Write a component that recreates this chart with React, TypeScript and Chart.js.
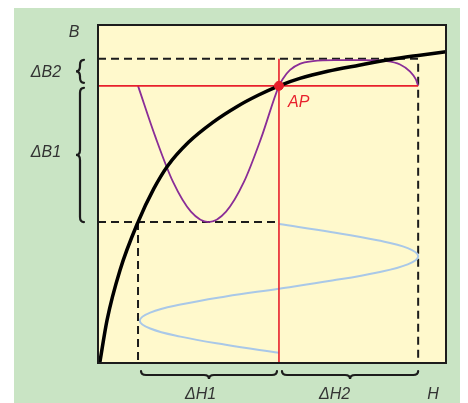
import React, { useEffect, useRef } from "react";
import { Chart, registerables } from "chart.js";
Chart.register(...registerables);

// Magnetisation (B-H) curve
const bhH = [0.5, 2.6, 6.3, 11.5, 16, 20, 26, 33, 40, 46, 52, 58, 66, 75, 84, 92, 100];
const bhB = [0, 12.7, 27.4, 41.7, 51.5, 58.3, 65.3, 71.2, 75.9, 79.2, 82.0, 84.2, 86.3, 88.1, 89.8, 91.0, 92.1];

// Resulting B over time (purple)
const outH = [11.5, 16.6, 21.6, 26.7, 31.8, 36.8, 41.9, 46.9, 52, 53.2, 55.2, 58, 61.8, 68, 76, 83, 86.8, 89.7, 91.3, 92];
const outB = [82, 66.6, 53.5, 44.8, 41.7, 44.8, 53.5, 66.6, 82, 84.2, 86.7, 88.5, 89.3, 89.6, 89.6, 89.3, 88.3, 86.2, 84, 82];

// Exciting H over time (light blue)
const inH = [52, 67.3, 80.3, 89.0, 92, 89.0, 80.3, 67.3, 52, 36.7, 23.7, 15.0, 12, 15.0, 23.7, 36.7, 52];
const inB = [41.1, 38.7, 36.3, 34.0, 31.6, 29.2, 26.8, 24.4, 22.0, 19.7, 17.3, 14.9, 12.5, 10.2, 7.8, 5.4, 3.0];

// Working point and limits
const hLow = 11.5;
const hAP = 52;
const hHigh = 92;
const bLow = 41.7;
const bAP = 82;
const bTop = 90;

const labels = { b: "B", h: "H", db1: "ΔB1", db2: "ΔB2", dh1: "ΔH1", dh2: "ΔH2", ap: "AP" };

const pts = (xs: number[], ys: number[]) => xs.map((x, i) => ({ x, y: ys[i] }));

const RED = "#E8202C";
const INK = "#1c1c1c";
const TXT = "#333333";

function hBrace(ctx: CanvasRenderingContext2D, x1: number, x2: number, y: number, h: number) {
  const mid = (x1 + x2) / 2;
  const r = 5;
  ctx.beginPath();
  ctx.moveTo(x1, y - h);
  ctx.quadraticCurveTo(x1, y, x1 + r, y);
  ctx.lineTo(mid - r, y);
  ctx.quadraticCurveTo(mid, y, mid, y + h);
  ctx.quadraticCurveTo(mid, y, mid + r, y);
  ctx.lineTo(x2 - r, y);
  ctx.quadraticCurveTo(x2, y, x2, y - h);
  ctx.stroke();
}

function vBrace(ctx: CanvasRenderingContext2D, x: number, y1: number, y2: number, h: number) {
  const mid = (y1 + y2) / 2;
  const r = 5;
  ctx.beginPath();
  ctx.moveTo(x + h, y1);
  ctx.quadraticCurveTo(x, y1, x, y1 + r);
  ctx.lineTo(x, mid - r);
  ctx.quadraticCurveTo(x, mid, x - h, mid);
  ctx.quadraticCurveTo(x, mid, x, mid + r);
  ctx.lineTo(x, y2 - r);
  ctx.quadraticCurveTo(x, y2, x + h, y2);
  ctx.stroke();
}

const decor = {
  id: "decor",
  beforeDraw(chart: any) {
    const { ctx, chartArea: a } = chart;
    ctx.save();
    ctx.fillStyle = "#C9E4C4";
    ctx.fillRect(6, 0, chart.width - 6, chart.height);
    ctx.fillStyle = "#FFF9CC";
    ctx.fillRect(a.left, a.top, a.right - a.left, a.bottom - a.top);
    ctx.restore();
  },
  afterDraw(chart: any) {
    const { ctx, chartArea: a } = chart;
    const xs = chart.scales.x;
    const ys = chart.scales.y;
    ctx.save();
    ctx.strokeStyle = INK;
    ctx.lineWidth = 2;
    ctx.strokeRect(a.left, a.top, a.right - a.left, a.bottom - a.top);

    ctx.lineWidth = 2.2;
    ctx.lineCap = "round";
    // left braces
    vBrace(ctx, 72, ys.getPixelForValue(bTop) + 1, ys.getPixelForValue(bAP) - 3, 4);
    vBrace(ctx, 72, ys.getPixelForValue(bAP) + 2, ys.getPixelForValue(bLow), 4);
    // bottom braces
    const by = a.bottom + 12;
    hBrace(ctx, xs.getPixelForValue(hLow) + 3, xs.getPixelForValue(hAP) - 2, by, 4);
    hBrace(ctx, xs.getPixelForValue(hAP) + 3, xs.getPixelForValue(hHigh), by, 4);

    ctx.font = "italic 16px 'Liberation Sans', Arial, sans-serif";
    ctx.fillStyle = TXT;
    ctx.textAlign = "center";
    ctx.textBaseline = "middle";
    ctx.fillText(labels.b, 66, 25);
    ctx.fillText(labels.db2, 38, 65);
    ctx.fillText(labels.db1, 38, 145);
    const ty = a.bottom + 32;
    ctx.fillText(labels.dh1, (xs.getPixelForValue(hLow) + xs.getPixelForValue(hAP)) / 2 - 8, ty);
    ctx.fillText(labels.dh2, (xs.getPixelForValue(hAP) + xs.getPixelForValue(hHigh)) / 2 - 14, ty);
    ctx.fillText(labels.h, 425, ty);

    ctx.fillStyle = RED;
    ctx.textAlign = "left";
    ctx.fillText(labels.ap, xs.getPixelForValue(hAP) + 9, ys.getPixelForValue(bAP) + 17);
    ctx.restore();
  },
};

export default function App() {
  const ref = useRef<HTMLCanvasElement>(null);
  useEffect(() => {
    const canvas = ref.current;
    if (!canvas) return;
    const dashed = { borderColor: INK, borderWidth: 2, borderDash: [8, 5], pointRadius: 0, showLine: true, tension: 0 };
    const chart = new Chart(canvas, {
      type: "scatter",
      data: {
        datasets: [
          {
            data: [{ x: hAP, y: bAP }],
            pointRadius: 4.5,
            pointBackgroundColor: RED,
            pointBorderColor: RED,
            showLine: false,
          },
          {
            data: pts(bhH, bhB),
            borderColor: "#000000",
            borderWidth: 3.5,
            pointRadius: 0,
            showLine: true,
            cubicInterpolationMode: "monotone",
          },
          {
            data: [{ x: 0, y: bAP }, { x: hHigh, y: bAP }],
            borderColor: RED,
            borderWidth: 1.6,
            pointRadius: 0,
            showLine: true,
          },
          {
            data: [{ x: hAP, y: bTop }, { x: hAP, y: 0 }],
            borderColor: RED,
            borderWidth: 1.6,
            pointRadius: 0,
            showLine: true,
          },
          {
            data: pts(outH, outB),
            borderColor: "#8A2D97",
            borderWidth: 1.8,
            pointRadius: 0,
            showLine: true,
            cubicInterpolationMode: "monotone",
          },
          {
            data: pts(inH, inB),
            borderColor: "#A9C8E8",
            borderWidth: 2,
            pointRadius: 0,
            showLine: true,
            tension: 0.4,
          },
          { ...dashed, data: [{ x: 0, y: bTop }, { x: hHigh, y: bTop }, { x: hHigh, y: 0 }] },
          { ...dashed, data: [{ x: 0, y: bLow }, { x: hAP, y: bLow }] },
          { ...dashed, data: [{ x: hLow, y: bLow }, { x: hLow, y: 0 }] },
        ] as any,
      },
      options: {
        animation: false,
        responsive: false,
        devicePixelRatio: 1,
        events: [],
        layout: { padding: { left: 90, right: 14, top: 17, bottom: 40 } },
        scales: {
          x: { type: "linear", min: 0, max: 100, display: false },
          y: { type: "linear", min: 0, max: 100, display: false },
        },
        plugins: { legend: { display: false }, tooltip: { enabled: false } },
      },
      plugins: [decor],
    });
    return () => chart.destroy();
  }, []);
  return (
    <div style={{ width: 452, height: 395 }}>
      <canvas ref={ref} width={452} height={395} style={{ display: "block" }} />
    </div>
  );
}
